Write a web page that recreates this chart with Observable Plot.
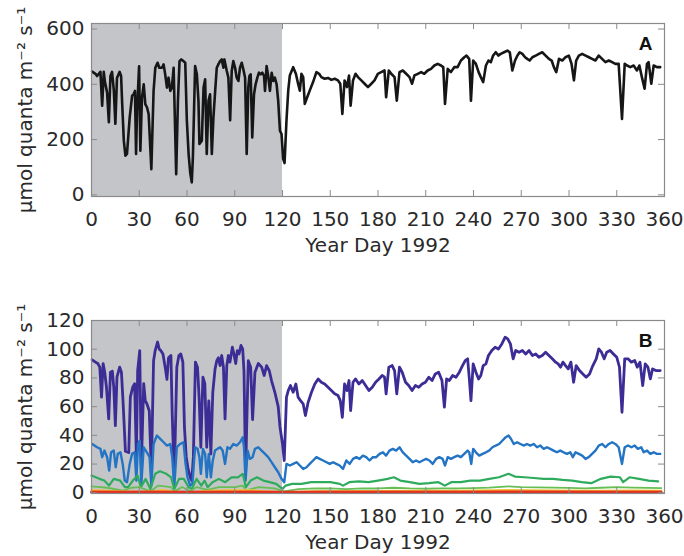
<!DOCTYPE html>
<html><head><meta charset="utf-8">
<script src="https://cdn.jsdelivr.net/npm/d3@7"></script>
<script src="https://cdn.jsdelivr.net/npm/@observablehq/plot@0.6"></script>
<style>
body{margin:0;background:#fff;width:684px;height:556px;position:relative;overflow:hidden}
#a{position:absolute;left:0;top:0}
#b{position:absolute;left:0;top:280px}
</style></head><body>
<div id="a"></div><div id="b"></div>
<script>
const xTicks = [0,30,60,90,120,150,180,210,240,270,300,330,360];
const yTicksA = [0,200,400,600];
const yTicksB = [0,20,40,60,80,100,120];
const shade = [{start:0,end:120}];
const yLabel = "μmol quanta m⁻² s⁻¹";
const xLabel = "Year Day 1992";

const dayA = [0.4,2.5,3.5,5.6,6.7,7.7,8.4,9.8,10.9,11.9,12.9,14,15,16,17.7,18.6,19.2,20.3,21.3,22.3,24,25.5,26.5,27.3,28,28.6,29.9,30.7,31.7,32.8,33.8,34.9,35.9,37.6,39,40.1,41.5,42.6,44.3,45.3,46.3,47.4,48.4,49.5,50.5,51.6,52.6,53.2,54.3,55.3,56.4,57.8,58.9,59.9,61,62,63,63.7,65.1,66.2,67.2,67.8,69.3,70.4,71.4,72.4,73.5,74.5,75.6,76.6,77.7,78.7,79.7,80.8,81.8,82.9,83.5,85,86,87.1,88.1,89.1,90.2,91.2,92.3,93.3,94.4,95.4,96.5,97.5,98.5,99.2,100,101,102.1,103.1,104.2,105.2,106.3,107.3,108.4,109,110,111,112.1,113.2,114.2,115.2,116.3,117.3,118.4,119.4,120.4,121.3,
122.5,123.6,124.6,126.7,128.4,129.8,130.9,131.9,133,134,135.5,137.1,139.2,141.3,143,144.4,146.5,148.6,150.7,152.8,154.9,156.3,157.6,159,160.5,161.8,162.8,164.3,165.9,167.4,169.5,171.6,173.7,175.8,177.8,179.9,182,184.1,185.1,186.8,188.3,190.4,191.8,193.5,195.6,197.7,199.8,201.4,202.9,205,207.1,209.1,211.2,213.3,215.4,217.5,219.6,221,222.1,223.8,225.8,227.9,230,232.1,234.2,235.6,237.3,238.4,239.8,241.5,243.2,244.6,246.1,247.8,249.4,250.9,252.3,254,255.7,257.1,259.2,261.3,262.8,264.4,266.1,267.6,269,270.7,272.4,273.8,275.3,277,279.1,281.1,283.2,285.3,287.4,289.1,290.5,292,293.7,295.8,297.8,299.9,301.6,303.1,304.5,306.2,308.3,310.4,312.5,314.5,316.6,318.7,320.8,322.9,325,327.1,329.1,331.2,333.3,335,336.5,338.5,340.6,342.7,344.2,345.8,347.5,349,350,351.7,353.2,355.2,357.3];
const parA = [446,438,430,445,323,445,410,370,263,430,445,380,257,423,445,430,340,196,142,148,280,358,364,376,148,304,465,160,352,400,328,316,292,93,376,460,478,460,460,472,436,388,424,376,388,460,220,75,340,484,490,484,478,270,148,81,45,136,466,436,340,184,196,388,418,148,340,364,148,280,376,460,472,484,490,460,490,448,424,270,448,484,460,424,412,460,478,454,424,148,388,430,436,208,364,400,424,442,436,442,430,376,466,430,376,442,412,424,400,340,232,220,130,115,
269,377,432,462,438,402,377,438,426,329,353,377,408,444,438,426,420,423,416,420,414,402,293,414,390,432,323,414,438,426,414,402,390,402,414,438,444,450,353,450,438,426,341,444,450,438,426,402,432,438,444,438,450,456,468,474,468,462,329,456,444,462,462,486,498,504,492,341,486,474,444,426,408,468,486,480,504,516,504,510,516,522,516,450,486,504,516,510,498,492,486,498,504,510,516,504,492,486,462,444,492,486,498,504,474,414,486,504,510,504,498,492,486,504,492,480,486,480,474,474,275,474,468,462,468,450,468,426,384,474,480,402,468,462,462];

const purple = [[0.4,92.6],[2.5,91],[4,90],[5.2,87.5],[6.3,66.6],[7.3,90],[8.3,84],[9.4,73.5],[10.8,51.5],[11.9,84],[13.1,84.7],[14,73.5],[15,46.8],[16,80.5],[17.7,87.5],[18.8,84],[19.8,64],[21.3,29],[23.4,28],[24.4,66.6],[25.9,73.5],[27.1,76],[28.2,24.8],[29,85],[30.3,99],[31.3,17.8],[32.8,76],[33.8,64],[34.8,62],[36.3,57],[37.6,15],[39,92],[40,99],[41.5,105],[42.6,100],[43.6,99],[44.9,96.7],[46.3,87.5],[47.4,79],[48.4,94],[49.9,95.6],[50.7,55],[52,10],[53.6,87.5],[54.9,95.6],[56.1,96.7],[57.4,91],[58.4,45.7],[59.5,25],[60.5,17.8],[62,10.8],[63,8.5],[64,25],[65.3,91],[66.6,87.5],[67.6,66.6],[68.7,31.7],[70,80.5],[71.2,76],[72.4,31.7],[73.7,64],[75,27],[76.2,70],[77.6,86],[78.7,92],[79.7,94],[80.8,88.6],[81.8,95.6],[82.9,87.5],[83.9,51.5],[85,88.6],[86,95.6],[87,91],[88.5,101.4],[89.5,96.7],[90.6,90],[91.6,99],[92.7,96.7],[93.9,102.6],[95,100],[95.8,85],[96.8,13],[98.5,92],[100,87.5],[101.2,51],[102.7,84],[104.8,90],[106.9,87.5],[108.5,81.7],[110,88.6],[111.7,85],[113.1,78.2],[115.2,70],[117.3,60],[118.4,46],[120,34],[121.1,22.5],
[122.5,66.6],[123.6,71.2],[125,74.7],[126.7,70],[128.4,75.8],[129.8,66.6],[131.3,64.2],[133,61.9],[134.4,53.8],[136.1,63],[138.2,70],[140.3,75.8],[142.4,79.3],[144.4,77],[146.5,75.8],[148.6,73.5],[150.7,71.2],[152.8,68.9],[154.9,67.7],[156.3,64.2],[157.6,52.6],[159,75.8],[160.5,71.2],[161.8,78.2],[162.8,57.3],[164.3,77],[165.9,79.3],[168,75.8],[170.1,78.2],[172.2,74.7],[174.3,71.2],[176.4,73.5],[178.5,77],[180.6,79.3],[182.6,81.7],[184.1,80.5],[185.1,68.9],[186.8,87.5],[188.9,88.6],[190.4,85.1],[191.8,68.9],[193.5,87.5],[195.2,84],[197.3,77],[199.3,74.7],[201.4,71.2],[203.5,74.7],[205.6,73.5],[207.7,75.8],[209.8,77],[211.9,80.5],[214,78.2],[216,82.8],[218.1,84],[220.2,78.2],[221.7,59.6],[223.1,79.3],[224.8,78.2],[226.9,81.7],[229,80.5],[231.1,84],[233.1,88.6],[234.8,92.1],[236.3,93.3],[237.3,80.5],[238.4,64.2],[239.8,89.8],[241.5,84],[243.2,79.3],[244.6,81.7],[246.1,88.6],[247.8,89.8],[249.4,95.6],[251.5,99.1],[253.6,101.4],[255.7,100.2],[257.8,103.7],[259.9,108.4],[261.5,107.2],[263.2,103.7],[264.9,93.3],[266.5,99.1],[268.6,97.9],[270.7,99.1],[272.8,96.7],[274.9,99.1],[277,95.6],[279.1,96.7],[281.1,94.4],[283.2,95.6],[285.3,97.9],[287.4,95.6],[289.5,93.3],[291.6,91],[293.2,89.8],[294.7,87.5],[296.2,91],[297.8,88.6],[299.5,86.3],[301.2,91],[302.9,77],[304.5,88.6],[306.6,85.1],[308.7,82.8],[310.8,80.5],[312.9,82.8],[315,88.6],[317.1,93.3],[318.7,100.2],[320.4,97.9],[322.1,93.3],[323.7,97.9],[325.8,99.1],[327.9,96.7],[330,94.4],[331.7,87.5],[333.3,56.1],[335,93.3],[337.1,93.3],[339.2,91],[341.3,92.1],[342.9,87.5],[344.6,91],[346.3,74.7],[347.9,89.8],[349.6,87.5],[351.1,79.3],[352.5,86.3],[354.6,85.1],[357.3,85.1]];

const blue = [[0.4,34],[3.5,31.7],[5.6,30.6],[6.7,24.8],[8.1,29.4],[9.8,24.8],[11.1,15.5],[12.3,28.2],[14,29.4],[15.2,17.8],[16.5,27.1],[18.2,28.2],[19.6,20.1],[20.9,8.5],[22.3,7.4],[24,20.1],[25.5,27.1],[27.1,28.2],[28.2,8.5],[29.2,34],[30.3,36.4],[31.3,6.2],[32.8,31.7],[34.8,28.2],[36.5,24.8],[37.6,5],[39,34],[41.1,39.9],[43.2,37.5],[45.3,35.2],[47.4,32.9],[49.5,34],[50.7,24.8],[52,3.9],[53.6,31.7],[55.7,34],[57.8,35.2],[59.1,20.1],[60.3,10.8],[62,5],[63.4,6.2],[65.1,31.7],[66.6,30.6],[67.8,24.8],[68.7,13.2],[70,30.6],[71.4,27.1],[72.4,10.8],[73.7,27.1],[75,10.8],[76.2,22.5],[77.6,29.4],[79.1,30.6],[80.8,31.7],[82.4,29.4],[83.9,20.1],[85.4,31.7],[87,30.6],[89.1,34],[91.2,32.9],[93.3,35.2],[95,38.7],[95.8,31.7],[96.8,8.5],[98.1,29.4],[99.5,23.6],[101.2,24.8],[102.7,30.6],[104.8,31.7],[106.9,29.4],[109,27.1],[111,24.8],[113.1,21.3],[115.2,17.8],[117.3,14.3],[119.4,9.7],[121.1,7.4],
[122.5,20.1],[124.6,19],[126.7,20.1],[128.8,21.3],[130.9,19],[133,16.6],[135.1,17.8],[137.1,20.1],[139.2,22.5],[141.3,24.8],[143.4,23.6],[145.5,22.5],[147.6,21.3],[149.7,20.1],[151.8,21.3],[153.8,20.1],[155.9,19],[158,16.6],[160.1,22.5],[162.2,20.1],[164.3,23.6],[166.4,24.8],[168.4,23.6],[170.5,25.9],[172.6,24.8],[174.7,22.5],[176.8,24.8],[178.9,24.8],[181,27.1],[183.1,28.2],[185.1,25.9],[187.2,29.4],[189.3,30.6],[191.4,29.4],[193.5,31.7],[195.6,28.2],[197.7,25.9],[199.8,23.6],[201.8,21.3],[203.9,22.5],[206,21.3],[208.1,22.5],[210.2,23.6],[212.3,22.5],[214.4,20.1],[216.5,23.6],[218.5,24.8],[220.6,23.6],[222.1,19],[223.8,24.8],[225.8,23.6],[227.9,24.8],[230,25.9],[232.1,24.8],[234.2,27.1],[236.3,29.4],[237.3,28.2],[238.6,20.1],[239.8,30.6],[241.5,28.2],[243.6,25.9],[245.7,27.1],[247.8,28.2],[249.8,29.4],[251.9,31.7],[254,32.9],[256.1,34],[258.2,36.4],[260.3,38.7],[262,39.9],[263.6,37.5],[265.3,34],[267.4,35.2],[269.5,34],[271.5,32.9],[273.6,34],[275.7,32.9],[277.8,34],[279.9,31.7],[282,32.9],[284.1,30.6],[286.2,31.7],[288.2,30.6],[290.3,29.4],[292.4,28.2],[294.5,29.4],[296.6,28.2],[298.7,27.1],[300.8,28.2],[302.4,24.8],[304.1,28.2],[306.2,27.1],[308.3,25.9],[310.4,23.6],[312.4,24.8],[314.5,27.1],[316.6,29.4],[318.7,32.9],[320.8,34],[322.9,31.7],[325,34],[327.1,35.2],[329.1,34],[331.2,31.7],[333.3,20.1],[335,31.7],[337.1,32.9],[339.2,31.7],[341.3,32.9],[343.3,30.6],[345.4,31.7],[346.9,28.2],[349,29.4],[351.1,27.1],[353.2,28.2],[355.2,27.1],[357.3,27.1]];

const green = [[0,12],[5,9.7],[8,8.5],[11,5],[14,9.7],[18,8.5],[21,3.9],[23,3.9],[26,8.5],[29,12],[31,3.9],[34,9.7],[37,2.7],[40,13.2],[43,15],[47,13.2],[50,10.8],[52,2.7],[55,9.7],[58,9.7],[61,3.9],[63,2.7],[66,9.7],[69,5],[71,8.5],[73,3.9],[76,7.4],[80,9.7],[84,7.4],[88,10.8],[92,10.8],[95,13.2],[97,3.9],[100,8.5],[104,10.8],[108,8.5],[112,7.4],[116,6.2],[120,2.7],[122,5],[126,6.2],[132,6.2],[138,7.4],[144,7.4],[150,7.4],[156,6.2],[158,5],[162,7.4],[168,8],[174,7.4],[180,8.5],[186,9.7],[190,10.8],[194,8.5],[200,7.4],[206,6.2],[212,6.7],[218,7.4],[222,5],[226,7.4],[232,7.4],[238,8.5],[244,8.5],[250,9.7],[256,10.8],[262,13.2],[266,11.3],[272,10.8],[278,10.3],[284,9.7],[290,9.7],[296,9],[302,8.5],[308,7.4],[314,6.7],[320,9.7],[326,11.3],[332,10.8],[334,7.4],[338,10.8],[344,9.7],[350,8.5],[356,8]];

const lightGreen = [[0,4.5],[10,3.5],[20,1.5],[25,3.5],[30,4],[37,1],[42,5],[50,4],[52,1],[57,4],[62,1],[66,4],[73,2],[80,4],[90,4],[95,5],[97,1.5],[105,4],[115,3],[121,1],[130,2.5],[140,3],[150,3],[160,2.5],[170,3],[180,3],[190,3.5],[200,3],[210,2.8],[220,3],[230,3],[240,3.3],[250,3.6],[262,4.5],[270,4],[280,3.8],[290,3.6],[300,3.4],[310,3],[320,3.5],[330,4],[340,3.6],[350,3.4],[358,3.3]];

const yellow = [[0,2],[20,1],[37,0.5],[45,2.2],[52,0.5],[63,0.5],[75,1.5],[90,2],[100,1.8],[121,0.5],[140,1.2],[170,1.3],[200,1.4],[230,1.4],[262,2],[290,1.7],[320,1.5],[340,1.7],[358,1.5]];

const orange = [[0,1.2],[20,0.8],[40,1.1],[60,0.7],[80,1],[100,1.1],[121,0.5],[150,0.9],[180,0.9],[210,0.9],[240,1],[262,1.3],[290,1.1],[320,1],[358,1]];

const red = [[0,0.4],[30,0.3],[60,0.4],[90,0.3],[120,0.3],[150,0.4],[180,0.3],[210,0.4],[240,0.3],[270,0.4],[300,0.3],[330,0.4],[358,0.3]];

const seriesA = dayA.map((d, i) => [d, parA[i]]);

const font = "'DejaVu Sans', sans-serif";
const tickGray = "#8a8a8a";
const txt = "#2a2a2a";

function axes(yTicks, panelLetter) {
  return [
    Plot.frame({stroke: tickGray, strokeWidth: 1.2}),
    Plot.axisX(xTicks, {anchor: "bottom", tickSize: -6, tickPadding: 21, stroke: tickGray, fill: txt,
      label: xLabel, labelAnchor: "center", labelArrow: "none", labelOffset: 55}),
    Plot.axisX(xTicks, {anchor: "top", tickSize: -5, stroke: tickGray, tickFormat: () => "", label: null}),
    Plot.axisY(yTicks, {anchor: "left", tickSize: -6, tickPadding: 13, stroke: tickGray, fill: txt,
      label: yLabel, labelAnchor: "center", labelArrow: "none", labelOffset: 74}),
    Plot.axisY(yTicks, {anchor: "right", tickSize: -7, stroke: tickGray, tickFormat: () => "", label: null}),
    Plot.text([panelLetter], {frameAnchor: "top-right", dx: -12, dy: 13, fontWeight: "bold", fontSize: 19,
      fontFamily: "'Liberation Sans', Arial, sans-serif", fill: "#111"})
  ];
}

const style = {fontFamily: font, fontSize: "20px", fontWeight: 400, color: txt, background: "transparent"};

const chartA = Plot.plot({
  width: 684, height: 260,
  marginTop: 23, marginBottom: 64, marginLeft: 91, marginRight: 20,
  style,
  x: {domain: [0, 360]},
  y: {domain: [-6, 620]},
  marks: [
    Plot.rect(shade, {x1: "start", x2: "end", fill: "#c4c5c9"}),
    Plot.line(seriesA, {x: d => d[0], y: d => d[1], stroke: "#161616", strokeWidth: 2.6}),
    ...axes(yTicksA, "A")
  ]
});
document.getElementById("a").append(chartA);

const ln = (data, color, w) => Plot.line(data, {x: d => d[0], y: d => d[1], stroke: color, strokeWidth: w});

const chartB = Plot.plot({
  width: 684, height: 276,
  marginTop: 40, marginBottom: 63, marginLeft: 91, marginRight: 20,
  style,
  x: {domain: [0, 360]},
  y: {domain: [-0.5, 120]},
  marks: [
    Plot.rect(shade, {x1: "start", x2: "end", fill: "#c4c5c9"}),
    ln(purple, "#3c2c95", 2.8),
    ln(blue, "#2374c4", 2.4),
    ln(green, "#2eab5c", 2.2),
    ln(lightGreen, "#66bf55", 1.8),
    ln(yellow, "#f0c63a", 1.8),
    ln(orange, "#f08a26", 1.8),
    ln(red, "#e3321d", 3),
    ...axes(yTicksB, "B")
  ]
});
document.getElementById("b").append(chartB);
</script>
</body></html>
